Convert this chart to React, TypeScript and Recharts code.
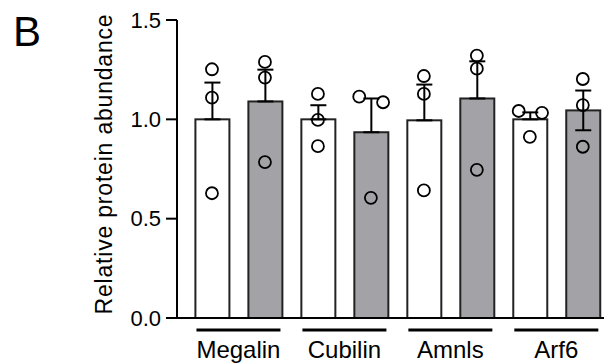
import React from 'react'
import { ComposedChart, Bar, Cell, ErrorBar, Scatter, XAxis, YAxis } from 'recharts'

const categories = ['Megalin', 'Cubilin', 'Amnls', 'Arf6']
// two bars per protein: control (white) then treated (grey)
const barGroup = ['ctrl', 'trt', 'ctrl', 'trt', 'ctrl', 'trt', 'ctrl', 'trt']
const barMeans = [1.0, 1.09, 1.0, 0.935, 0.995, 1.105, 1.0, 1.045]
const errUp = [0.185, 0.16, 0.071, 0.17, 0.18, 0.187, 0.035, 0.1]
const errDown = [0, 0, 0, 0, 0, 0, 0, 0.1]

// individual replicates: [bar index (with small jitter), value]
const replicates: [number, number][] = [
  [0, 1.252], [0, 1.109], [0, 0.628],
  [1, 1.289], [1, 1.21], [1, 0.785],
  [2, 1.128], [2, 0.997], [2, 0.865],
  [2.78, 1.114], [3.23, 1.086], [3, 0.605],
  [4, 1.218], [4, 1.128], [4, 0.642],
  [5, 1.321], [5, 1.255], [5, 0.746],
  [5.79, 1.042], [6.23, 1.033], [6, 0.912],
  [7, 1.203], [7, 1.072], [7, 0.862],
]

const yTicks = [0, 0.5, 1.0, 1.5]
const groupCenters = [0.5, 2.5, 4.5, 6.5]

const barData = barMeans.map((mean, i) => ({
  pos: i,
  mean,
  err: [errDown[i], errUp[i]],
  group: barGroup[i],
}))
const dotData = replicates.map(([pos, value]) => ({ pos, value }))

const FONT = '"Liberation Sans", Arial, Helvetica, sans-serif'
const fills: Record<string, string> = { ctrl: '#ffffff', trt: '#a3a3a7' }
const BAR_W = 34

const GroupTick = (props: any) => {
  const { x, y, payload } = props
  const name = categories[Math.round((payload.value - 0.5) / 2)]
  return (
    <g>
      <line x1={x - 42} x2={x + 42} y1={y + 12} y2={y + 12} stroke="#000" strokeWidth={3} />
      <text x={x} y={y + 40} textAnchor="middle" fontSize={24} fontFamily={FONT} fill="#000">
        {name}
      </text>
    </g>
  )
}

const YLabel = (props: any) => {
  const { viewBox } = props
  const cy = viewBox.y + viewBox.height / 2 - 5
  const x = 112
  return (
    <text
      x={x}
      y={cy}
      transform={`rotate(-90, ${x}, ${cy})`}
      textAnchor="middle"
      fontSize={23}
      fontFamily={FONT}
      fill="#000"
      letterSpacing={0.8}
    >
      Relative protein abundance
    </text>
  )
}

// number axis squeezes the bars, so keep the centre and draw a fixed width
const BarShape = (props: any) => {
  const { x, y, width, height, fill } = props
  const cx = x + width / 2
  return (
    <rect x={cx - BAR_W / 2} y={y} width={BAR_W} height={height} fill={fill} stroke="#222" strokeWidth={2} />
  )
}

const Dot = (props: any) => {
  const { cx, cy } = props
  return <circle cx={cx} cy={cy} r={6} fill="none" stroke="#000" strokeWidth={1.8} />
}

export default function App() {
  return (
    <div style={{ position: 'absolute', left: 0, top: 0, width: 609, height: 363, background: '#fff' }}>
      <div
        style={{
          position: 'absolute',
          left: 13,
          top: 11,
          fontSize: 42,
          lineHeight: '42px',
          fontFamily: FONT,
          color: '#000',
        }}
      >
        B
      </div>
      <ComposedChart
        width={609}
        height={363}
        data={barData}
        margin={{ top: 20, right: 5, bottom: 0, left: 0 }}
      >
        <XAxis
          dataKey="pos"
          type="number"
          domain={[-0.66, 7.4]}
          ticks={groupCenters}
          tick={<GroupTick />}
          tickLine={false}
          tickSize={0}
          tickMargin={0}
          height={45}
          axisLine={{ stroke: '#000', strokeWidth: 2 }}
          interval={0}
        />
        <YAxis
          type="number"
          domain={[0, 1.5]}
          ticks={yTicks}
          width={177}
          tickSize={11}
          tickMargin={5}
          tickFormatter={(v: number) => v.toFixed(1)}
          tick={{ fontSize: 22, fontFamily: FONT, fill: '#000' }}
          tickLine={{ stroke: '#000', strokeWidth: 2 }}
          axisLine={{ stroke: '#000', strokeWidth: 2 }}
          label={<YLabel />}
        />
        <Bar dataKey="mean" barSize={34} shape={<BarShape />} isAnimationActive={false}>
          {barData.map((d, i) => (
            <Cell key={i} fill={fills[d.group]} />
          ))}
          <ErrorBar dataKey="err" width={8} stroke="#000" strokeWidth={2} direction="y" />
        </Bar>
        <Scatter data={dotData} dataKey="value" shape={<Dot />} isAnimationActive={false} />
      </ComposedChart>
    </div>
  )
}
